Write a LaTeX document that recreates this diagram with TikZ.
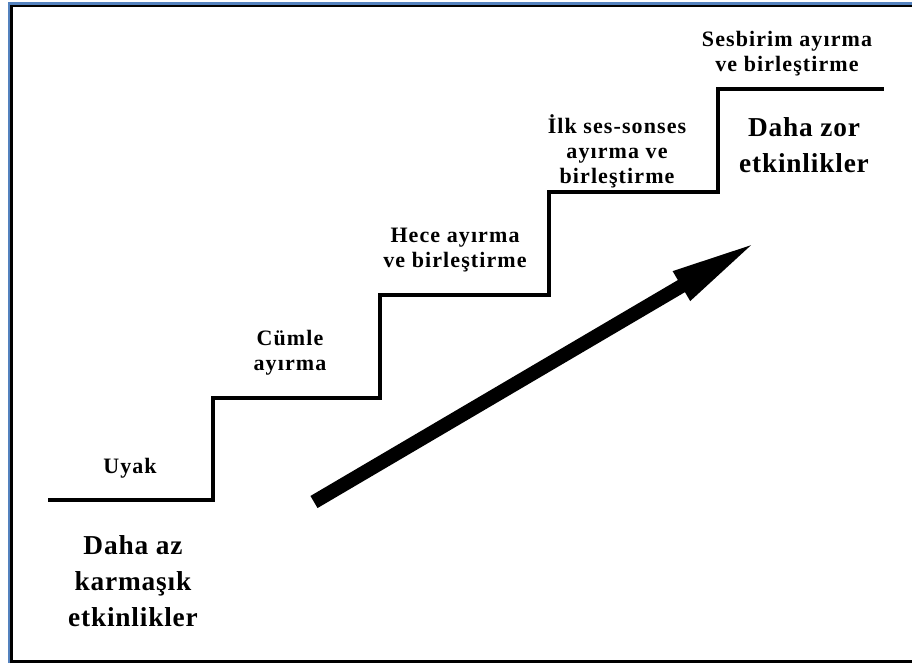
\documentclass[tikz,border=0pt]{standalone}
\usepackage{fontspec}
\setmainfont{Liberation Serif}
\newfontfamily\lblfont[LetterSpace=5]{Liberation Serif}
\newfontfamily\bigfont[LetterSpace=3]{Liberation Serif}
\usetikzlibrary{arrows.meta}
\definecolor{frameblue}{RGB}{84,130,190}
\begin{document}
\begin{tikzpicture}[x=0.75pt,y=-0.75pt,
  stair/.style={line width=3.3pt, line join=miter},
  small/.style={align=center, font=\lblfont\bfseries\fontsize{16.5}{18.75}\selectfont, inner sep=0pt},
  big/.style={align=center, font=\bigfont\bfseries\fontsize{20.5}{27}\selectfont, inner sep=0pt},
  bigarrow/.style={line width=10.5pt, -{Triangle[length=67.5pt,width=22.5pt]}}]
\useasboundingbox (0,0) rectangle (912,663);
\fill[white] (0,0) rectangle (912,663);
% frame
\draw[frameblue, line width=1.6pt] (9,663) -- (9,3.5) -- (912,3.5);
\draw[black, line width=1.6pt] (11.5,663) -- (11.5,6) -- (912,6);
\draw[black, line width=1.6pt] (11.5,661.5) -- (912,661.5);
% staircase
\coordinate (s0) at (48,500);
\coordinate (s1) at (213,500);
\coordinate (s2) at (213,398);
\coordinate (s3) at (380,398);
\coordinate (s4) at (380,295);
\coordinate (s5) at (549,295);
\coordinate (s6) at (549,192);
\coordinate (s7) at (718,192);
\coordinate (s8) at (718,89);
\coordinate (s9) at (884,89);
\draw[stair] (s0) -- (s1) -- (s2) -- (s3) -- (s4) -- (s5) -- (s6) -- (s7) -- (s8) -- (s9);
% arrow
\coordinate (tail) at (314,502);
\coordinate (tip) at (759,240.5);
\draw[bigarrow] (tail) -- (tip);
% labels
\node[small] (uyak) at (130,468) {Uyak};
\node[small] (cumle) at (290,353) {Cümle\\ayırma};
\node[small] (hece) at (455,250) {Hece ayırma\\ve birleştirme};
\node[small] (ilk) at (617,151) {İlk ses-sonses\\ayırma ve\\birleştirme};
\node[small] (sesbirim) at (787,54) {Sesbirim ayırma\\ve birleştirme};
\node[big] (zor) at (804,145) {Daha zor\\etkinlikler};
\node[big] (az) at (133,581) {Daha az\\karmaşık\\etkinlikler};
\end{tikzpicture}
\end{document}
